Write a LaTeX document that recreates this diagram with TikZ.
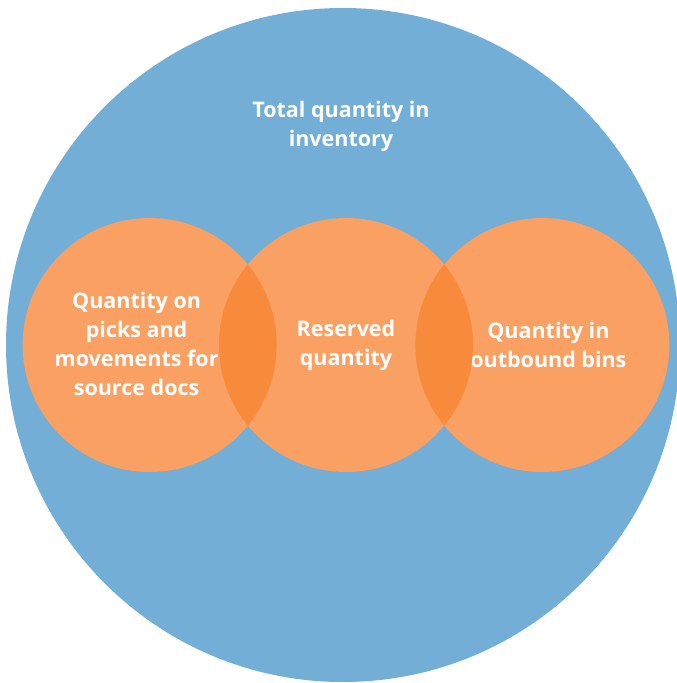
\documentclass[tikz,border=0pt]{standalone}
\usepackage{fontspec}
\setmainfont{Open Sans}
\usetikzlibrary{positioning}
\definecolor{stockblue}{HTML}{72AED5}
\definecolor{partorange}{HTML}{F9A062}
\definecolor{lensorange}{HTML}{F88A3C}
\newcommand{\partradius}{127pt}
\newcommand{\labelfont}{\fontsize{21.5}{29}\selectfont\bfseries}
\tikzstyle{stock} = [% the whole inventory
  circle,
  minimum size=674pt,
  inner sep=0pt,
  fill=stockblue
  ]
\tikzstyle{part} = [% one part of the inventory
  circle,
  minimum size=254pt,
  inner sep=0pt,
  fill=partorange
  ]
\tikzstyle{caption} = [% white bold text
  align=center,
  inner sep=0pt,
  font=\labelfont,
  text=white
  ]
\tikzstyle{lens} = [% where two parts overlap
  fill=lensorange
  ]
\begin{document}
\begin{tikzpicture}[x=1pt, y=-1pt, node distance=-58pt]
\useasboundingbox (0,0) rectangle (677,683);

%%% Nodes
\node[stock] (inventory) at (343,345) {};
\node[caption] (total) at (341,126) {Total quantity in\\inventory};

\node[part] (reserved) at (346,345) {};
\node[part] (picks) [left=of reserved] {};
\node[part] (outbound) [right=of reserved] {};

\node[caption] (reservedtext) at (reserved.center) {Reserved\\quantity};
\node[caption] (pickstext) at ([xshift=-13pt,yshift=1pt]picks.center)
  {Quantity on\\picks and\\movements for\\source docs};
\node[caption] (outboundtext) at ([xshift=6pt]outbound.center)
  {Quantity in\\outbound bins};

%%% Overlaps
\begin{scope}
  \clip (picks.center) circle[radius=\partradius];
  \fill[lens] (reserved.center) circle[radius=\partradius];
\end{scope}
\begin{scope}
  \clip (reserved.center) circle[radius=\partradius];
  \fill[lens] (outbound.center) circle[radius=\partradius];
\end{scope}

\end{tikzpicture}
\end{document}
